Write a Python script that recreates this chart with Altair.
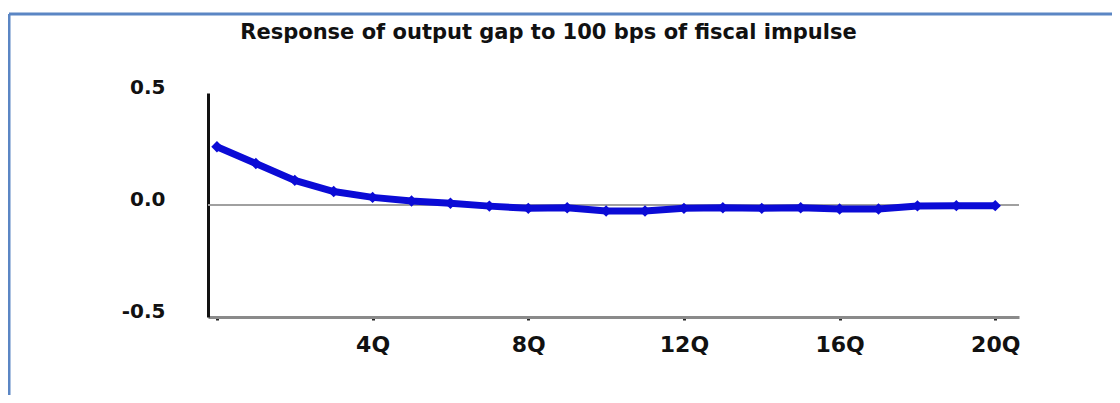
import altair as alt
import pandas as pd

# ---- data ----
quarters = list(range(21))
response = [0.26, 0.185, 0.11, 0.06, 0.034, 0.018, 0.008, -0.005, -0.015, -0.012,
            -0.027, -0.027, -0.015, -0.012, -0.015, -0.012, -0.018, -0.018,
            -0.004, -0.003, -0.003]
x_ticks = [0, 4, 8, 12, 16, 20]
y_ticks = [-0.5, 0.0, 0.5]
title_text = "Response of output gap to 100 bps of fiscal impulse"

df = pd.DataFrame({"q": quarters, "r": response})
zero_df = pd.DataFrame({"y": [0.0]})

W, H = 811, 224
FONT = "DejaVu Sans"
BLUE = "#0b0bd6"

x_scale = alt.Scale(domain=[-0.23, 20.61], nice=False, zero=False)
y_scale = alt.Scale(domain=[-0.5, 0.5], nice=False)

x_axis = alt.Axis(
    values=x_ticks,
    labelExpr="datum.value == 0 ? '' : datum.value + 'Q'",
    title=None, grid=False,
    domainColor="#8a8a8a", domainWidth=3,
    tickColor="#222222", tickWidth=3, tickSize=3,
    labelFont=FONT, labelFontSize=22, labelFontWeight="bold", labelColor="#111111",
    labelPadding=14,
)
y_axis = alt.Axis(
    values=y_ticks,
    labelExpr="datum.value < 0 ? '-' + format(-datum.value, '.1f') : format(datum.value, '.1f')",
    title=None, grid=False, ticks=False,
    domainColor="#111111", domainWidth=3,
    labelFont=FONT, labelFontSize=20, labelFontWeight="bold", labelColor="#111111",
    labelPadding=43, labelOffset=-6,
)

zero = alt.Chart(zero_df).mark_rule(color="#a0a0a0", strokeWidth=2).encode(
    y=alt.Y("y:Q", scale=y_scale, axis=y_axis)
)

line = alt.Chart(df).mark_line(
    color=BLUE, strokeWidth=7,
    point=alt.OverlayMarkDef(shape="diamond", size=130, filled=True, color=BLUE),
).encode(
    x=alt.X("q:Q", scale=x_scale, axis=x_axis),
    y=alt.Y("r:Q", scale=y_scale, axis=y_axis),
)

# decorative frame lines (blue border at top and left of the picture)
frame_top = alt.Chart(zero_df).mark_rule(color="#5b86c4", strokeWidth=3).encode(
    x=alt.value(-199), x2=alt.value(920), y=alt.value(-79)
)
frame_left = alt.Chart(zero_df).mark_rule(color="#5b86c4", strokeWidth=3).encode(
    x=alt.value(-199), y=alt.value(-79), y2=alt.value(320)
)

chart = alt.layer(zero, line, frame_top, frame_left).properties(
    width=W, height=H,
    title=alt.TitleParams(
        text=title_text, font=FONT, fontSize=21, fontWeight="bold", color="#111111",
        anchor="middle", frame="group", baseline="alphabetic", offset=0, dy=47, dx=-65,
    ),
    autosize=alt.AutoSizeParams(type="none"),
    padding={"left": 200, "top": 85, "right": 93, "bottom": 78},
).configure(background="white").configure_view(stroke=None)

chart.save("out.html", embed_options={"renderer": "svg", "actions": False})
